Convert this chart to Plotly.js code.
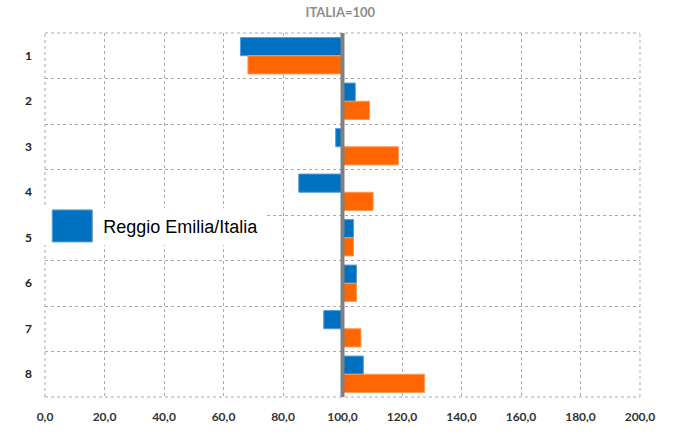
<!DOCTYPE html>
<html>
<head>
<meta charset="utf-8">
<script src="https://cdn.plot.ly/plotly-3.0.1.min.js"></script>
<style>html,body{margin:0;padding:0;background:#fff;}#chart{width:674px;height:443px;}</style>
</head>
<body>
<div id="chart"></div>
<script>
var categories = ["1", "2", "3", "4", "5", "6", "7", "8"];
var reggioEmilia = [65.7, 104.3, 97.7, 85.3, 103.7, 104.7, 93.7, 107.0];
var secondSeries = [68.2, 109.1, 118.8, 110.3, 103.7, 104.7, 106.2, 127.6];
var xTicks = [0, 20, 40, 60, 80, 100, 120, 140, 160, 180, 200];
var baseline = 100;
var seriesName = "Reggio Emilia/Italia";

function lengths(arr) { return arr.map(function (v) { return v - baseline; }); }

var gridColor = "#a9a9a9";
var gridDash = "3px,3px";

var traces = [
  {
    type: "bar", orientation: "h", name: seriesName,
    y: categories, x: lengths(reggioEmilia), base: baseline,
    marker: {color: "#0070C0", line: {color: "#5B9BD5", width: 1}},
    hoverinfo: "skip"
  },
  {
    type: "bar", orientation: "h", name: "Serie 2", showlegend: false,
    y: categories, x: lengths(secondSeries), base: baseline,
    marker: {color: "#FF6600", line: {color: "#FF9955", width: 1}},
    hoverinfo: "skip"
  }
];

function edge(x0, x1, y0, y1) {
  return {type: "line", xref: "paper", yref: "paper", x0: x0, x1: x1, y0: y0, y1: y1,
          line: {color: gridColor, width: 1, dash: gridDash}, layer: "below"};
}

var layout = {
  width: 674, height: 443,
  margin: {l: 45, r: 34, t: 33, b: 46, pad: 0},
  paper_bgcolor: "#fff", plot_bgcolor: "#fff",
  separators: ",.",
  barmode: "group", bargap: 0.2, bargroupgap: 0,
  title: {text: "ITALIA=100", x: 0.505, xanchor: "center", y: 0.972, yanchor: "middle",
          font: {family: "Lato, sans-serif", size: 13, color: "#8c8c8c", weight: "bold"}},
  xaxis: {
    range: [0, 200], tickvals: xTicks, tickformat: ".1f",
    showgrid: true, gridcolor: gridColor, griddash: gridDash, gridwidth: 1,
    zeroline: false, showline: false, ticks: "", ticklabelstandoff: 11,
    tickfont: {family: "Lato, sans-serif", size: 12, color: "#333", weight: "bold"},
    fixedrange: true
  },
  yaxis: {
    type: "category", autorange: "reversed", tickson: "boundaries",
    showgrid: true, gridcolor: gridColor, griddash: gridDash, gridwidth: 1,
    zeroline: false, showline: false, ticks: "", ticklabelstandoff: 12,
    tickfont: {family: "Lato, sans-serif", size: 12, color: "#222", weight: "bold"},
    fixedrange: true
  },
  shapes: [
    edge(0, 0, 0, 1),
    edge(1, 1, 0, 1),
    edge(0, 1, 1, 1),
    edge(0, 1, 0, 0),
    {type: "line", xref: "x", yref: "paper", x0: baseline, x1: baseline, y0: 0, y1: 1,
     line: {color: "#808080", width: 4}, layer: "above"}
  ],
  showlegend: true,
  legend: {
    x: -0.0063, xanchor: "left", y: 0.52, yanchor: "top",
    bgcolor: "#fff", borderwidth: 0, itemwidth: 52,
    font: {family: "Liberation Sans, Arial, sans-serif", size: 18, color: "#000"},
    itemclick: false, itemdoubleclick: false
  }
};

Plotly.newPlot("chart", traces, layout, {displayModeBar: false, staticPlot: true}).then(function () {
  var paths = document.querySelectorAll(".legend .legendpoints path");
  paths.forEach(function (p) { p.setAttribute("d", "M20,16H-20V-16H20Z"); });
});
</script>
</body>
</html>
